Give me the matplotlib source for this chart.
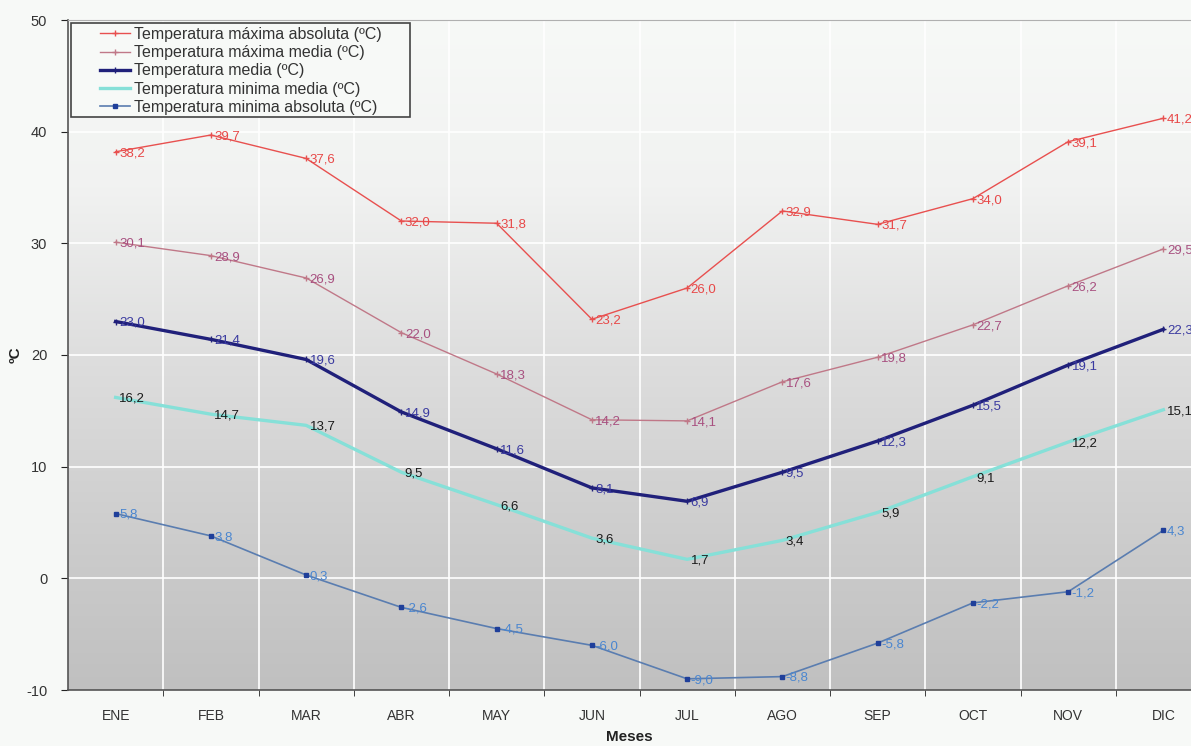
import numpy as np
import matplotlib.pyplot as plt
from matplotlib.colors import LinearSegmentedColormap
from matplotlib.patches import Rectangle

plt.rcParams['font.family'] = ['Liberation Sans', 'DejaVu Sans']
plt.rcParams['axes.unicode_minus'] = False

meses = ['ENE', 'FEB', 'MAR', 'ABR', 'MAY', 'JUN', 'JUL', 'AGO', 'SEP', 'OCT', 'NOV', 'DIC']
max_abs = [38.2, 39.7, 37.6, 32.0, 31.8, 23.2, 26.0, 32.9, 31.7, 34.0, 39.1, 41.2]
max_media = [30.1, 28.9, 26.9, 22.0, 18.3, 14.2, 14.1, 17.6, 19.8, 22.7, 26.2, 29.5]
media = [23.0, 21.4, 19.6, 14.9, 11.6, 8.1, 6.9, 9.5, 12.3, 15.5, 19.1, 22.3]
min_media = [16.2, 14.7, 13.7, 9.5, 6.6, 3.6, 1.7, 3.4, 5.9, 9.1, 12.2, 15.1]
min_abs = [5.8, 3.8, 0.3, -2.6, -4.5, -6.0, -9.0, -8.8, -5.8, -2.2, -1.2, 4.3]

W, H = 1191, 746
bg = '#f7f9f7'
fig = plt.figure(figsize=(W/100, H/100), dpi=100, facecolor=bg)
ax = fig.add_axes([68/W, 56/H, (W-68)/W, 670/H])

x = np.arange(len(meses))

# gradient background of the plot area
cmap = LinearSegmentedColormap.from_list('bg', [(0, '#f7f9f7'), (0.25, '#f1f2f1'),
                                                (0.5, '#dedede'), (0.8, '#cbcbcb'),
                                                (1, '#c0c0c0')])
grad = np.linspace(0, 1, 256).reshape(-1, 1)
ax.imshow(grad, cmap=cmap, aspect='auto', extent=[0, 1, 0, 1],
          transform=ax.transAxes, zorder=0)

for v in np.arange(0.5, 11, 1):
    ax.axvline(v, color='white', lw=1.2, zorder=1)
for v in range(0, 50, 10):
    ax.axhline(v, color='white', lw=1.2, zorder=1)

series = [
    (max_abs, 'Temperatura máxima absoluta (ºC)', '#e8504f', 1.0, '+', '#e84848'),
    (max_media, 'Temperatura máxima media (ºC)', '#c07888', 1.0, '+', '#a85080'),
    (media, 'Temperatura media (ºC)', '#20207a', 2.4, '+', '#3a3aa0'),
    (min_media, 'Temperatura minima media (ºC)', '#86e0d8', 2.4, None, '#1a1a1a'),
    (min_abs, 'Temperatura minima absoluta (ºC)', '#5a7db0', 1.2, 's', '#4a86d0'),
]

for vals, name, col, lw, mk, lcol in series:
    if mk == 's':
        ax.plot(x, vals, color=col, lw=lw, marker='s', ms=3.5, mfc='#1f3f9a',
                mec='#1f3f9a', label=name, zorder=3)
    elif mk == '+':
        ax.plot(x, vals, color=col, lw=lw, marker='+', ms=4, label=name, zorder=3)
    else:
        ax.plot(x, vals, color=col, lw=lw, label=name, zorder=3)
    for xi, v in zip(x, vals):
        ax.annotate(f'{v:.1f}'.replace('.', ','), (xi, v), xytext=(2.5, -1),
                    textcoords='offset points', ha='left', va='center',
                    fontsize=9.5, color=lcol, zorder=4)

ax.set_xlim(-0.5, 11.29)
ax.set_ylim(-10, 50)
ax.set_yticks(range(-10, 51, 10))
ax.set_xticks(x)
ax.set_xticklabels(meses)
ax.set_xticks(np.arange(0.5, 11, 1), minor=True)
ax.tick_params(axis='x', which='major', length=0, pad=14, labelsize=10, colors='#333333')
ax.tick_params(axis='x', which='minor', length=4, direction='out', color='#222222')
ax.tick_params(axis='y', length=5, direction='out', labelsize=10.5, colors='#333333',
               color='#222222', pad=10)

for s in ['left', 'bottom']:
    ax.spines[s].set_color('#555555')
    ax.spines[s].set_linewidth(1.2)
ax.spines['top'].set_color('#b0b0b0')
ax.spines['right'].set_visible(False)

ax.set_xlabel('Meses', fontsize=11, fontweight='bold', color='#222222')
ax.xaxis.set_label_coords(0.5, -0.06)
ax.set_ylabel('ºC', fontsize=11, fontweight='bold', color='#222222')
ax.yaxis.set_label_coords(-0.04, 0.5)

# legend box drawn by hand so the padding matches
box = Rectangle((71/W, 1 - 117/H), 339/W, 94/H, transform=fig.transFigure,
                facecolor=bg, edgecolor='#444444', lw=1.2, zorder=5, clip_on=False)
ax.add_patch(box)
leg = ax.legend(loc='upper left', bbox_to_anchor=(100/W, 1 - 27/H),
                bbox_transform=fig.transFigure, fontsize=11.5,
                handlelength=1.9, handletextpad=0.2, labelspacing=0.2,
                borderpad=0, borderaxespad=0, frameon=False)
leg.set_zorder(6)
for t in leg.get_texts():
    t.set_color('#333333')

fig.savefig('out.png', dpi=100, facecolor=bg)
